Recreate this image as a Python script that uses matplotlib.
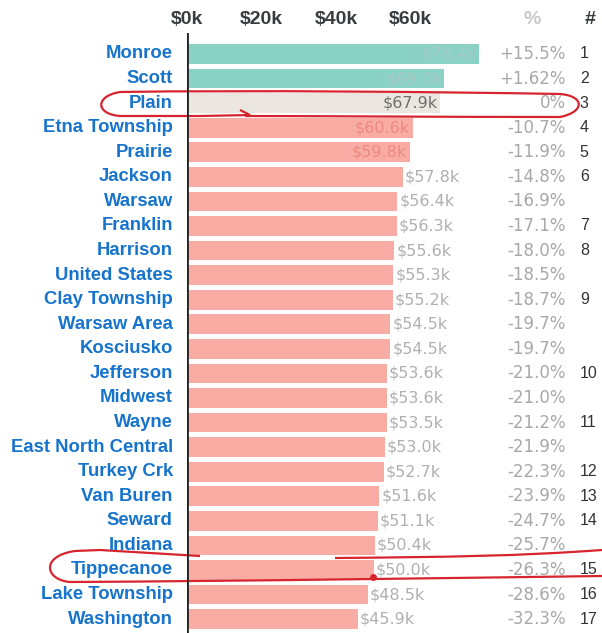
import numpy as np
import matplotlib
matplotlib.use('Agg')
import matplotlib.pyplot as plt
from matplotlib.path import Path
from matplotlib.patches import PathPatch

plt.rcParams['font.family'] = ['Liberation Sans', 'DejaVu Sans']

# data
places = ['Monroe', 'Scott', 'Plain', 'Etna Township', 'Prairie', 'Jackson', 'Warsaw',
          'Franklin', 'Harrison', 'United States', 'Clay Township', 'Warsaw Area',
          'Kosciusko', 'Jefferson', 'Midwest', 'Wayne', 'East North Central',
          'Turkey Crk', 'Van Buren', 'Seward', 'Indiana', 'Tippecanoe',
          'Lake Township', 'Washington']
income_k = [78.4, 69.0, 67.9, 60.6, 59.8, 57.8, 56.4, 56.3, 55.6, 55.3, 55.2, 54.5,
            54.5, 53.6, 53.6, 53.5, 53.0, 52.7, 51.6, 51.1, 50.4, 50.0, 48.5, 45.9]
pct_labels = ['+15.5%', '+1.62%', '0%', '-10.7%', '-11.9%', '-14.8%', '-16.9%',
              '-17.1%', '-18.0%', '-18.5%', '-18.7%', '-19.7%', '-19.7%', '-21.0%',
              '-21.0%', '-21.2%', '-21.9%', '-22.3%', '-23.9%', '-24.7%', '-25.7%',
              '-26.3%', '-28.6%', '-32.3%']
ranks = ['1', '2', '3', '4', '5', '6', '', '7', '8', '', '9', '', '', '10', '',
         '11', '', '12', '13', '14', '', '15', '16', '17']
xticks_k = [0, 20, 40, 60]

n = len(places)
y = np.arange(n)

# colours by sign of difference from Plain
bar_cols, val_cols = [], []
for p in pct_labels:
    if p.startswith('+'):
        bar_cols.append('#8ad2c6'); val_cols.append('#a8c9c4')
    elif p == '0%':
        bar_cols.append('#ebe6df'); val_cols.append('#707070')
    else:
        bar_cols.append('#f9aca4'); val_cols.append('#ec8a80')

fig = plt.figure(figsize=(6.02, 6.33), dpi=100)
ax = fig.add_axes([187 / 602, 0, 1 - 187 / 602, 1 - 33 / 633])

px_per_k = 3.73
ax.set_xlim(0, (602 - 187) / px_per_k)
ax.set_ylim((633 - 54) / 24.57, (33 - 54) / 24.57)

ax.barh(y, income_k, height=0.8, color=bar_cols, edgecolor='none')
ax.axvline(0, color='#222222', lw=2)

num_font = ['DejaVu Sans']
for i, v in enumerate(income_k):
    lab = f'${v:.1f}k'
    if v >= 59:
        ax.text(v - 0.8, i, lab, ha='right', va='center', fontsize=11.5,
                family=num_font, color=val_cols[i])
    else:
        ax.text(v + 0.5, i, lab, ha='left', va='center', fontsize=11.5,
                family=num_font, color='#b0b0b0')
    ax.text(101.5, i, pct_labels[i], ha='right', va='center', fontsize=12,
            family=num_font, color='#a8a8a8')
    ax.text(105.3, i, ranks[i], ha='left', va='center', fontsize=11.5,
            color='#333333')
    ax.text(-3.8, i, places[i], ha='right', va='center', fontsize=13.3,
            fontweight='bold', color='#1774cc', clip_on=False)

# header
hy = (20 - 54) / 24.57
for t in xticks_k:
    ax.text(t, hy, f'${t}k', ha='center', va='center', fontsize=14,
            fontweight='bold', color='#383c40', clip_on=False)
ax.text(92.5, hy, '%', ha='center', va='center', fontsize=14,
        fontweight='bold', color='#c8c8c8', clip_on=False)
ax.text(108, hy, '#', ha='center', va='center', fontsize=14,
        fontweight='bold', color='#383c40', clip_on=False)

ax.set_xticks([]); ax.set_yticks([])
for s in ax.spines.values():
    s.set_visible(False)

# hand-drawn red marks (pixel coords -> data)
def to_data(pts):
    return [((px - 187) / px_per_k, (py - 54) / 24.57) for px, py in pts]

C = Path.CURVE4
plain_loop = [(240, 110), (250, 115), (200, 116), (120, 116),
              (95, 114), (95, 96), (120, 92),
              (250, 90), (450, 92), (560, 94),
              (585, 96), (585, 112), (560, 117),
              (450, 117), (300, 116), (245, 116)]
plain_codes = [Path.MOVETO, Path.LINETO, Path.LINETO, Path.LINETO,
               C, C, C, C, C, C, C, C, C, C, C, C]
ax.add_patch(PathPatch(Path(to_data(plain_loop), plain_codes), fill=False,
                       edgecolor='#d8242f', lw=1.6, clip_on=False))

tip_loop = [(200, 556), (150, 553), (100, 550), (75, 551),
            (40, 556), (45, 580), (70, 582),
            (250, 581), (450, 578), (602, 576)]
tip_codes = [Path.MOVETO, Path.LINETO, Path.LINETO, Path.LINETO, C, C, C, C, C, C]
ax.add_patch(PathPatch(Path(to_data(tip_loop), tip_codes), fill=False,
                       edgecolor='#d8242f', lw=1.6, clip_on=False))
tip_top = [(335, 558), (450, 557), (520, 556), (602, 550)]
ax.add_patch(PathPatch(Path(to_data(tip_top), [Path.MOVETO, C, C, C]), fill=False,
                       edgecolor='#d8242f', lw=1.6, clip_on=False))
dx, dy = to_data([(373, 577)])[0]
ax.plot([dx], [dy], 'o', color='#d8242f', ms=4, clip_on=False)

fig.savefig('out.png', dpi=100)
